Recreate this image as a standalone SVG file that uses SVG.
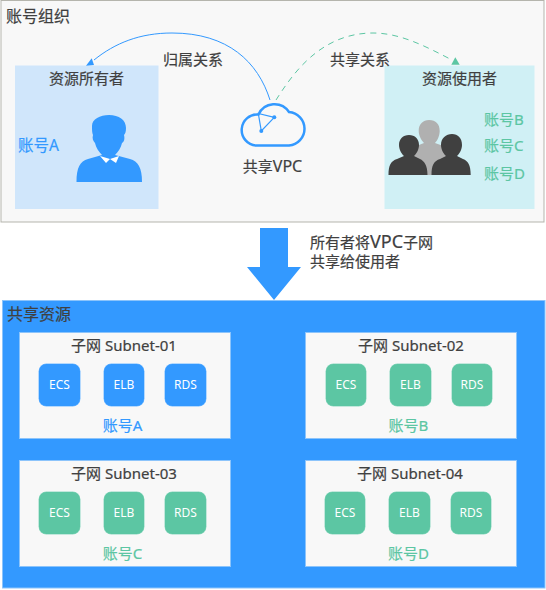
<svg xmlns="http://www.w3.org/2000/svg" width="546" height="590" viewBox="0 0 546 590">
<style>
text{font-family:"Noto Sans","Noto Sans CJK SC",sans-serif;font-size:15px;fill:#404040;stroke:#404040;stroke-width:.2}
.c{text-anchor:middle}
.b{fill:#3399ff}
.g{fill:#5cc6a3}
text.tb{fill:#3399ff;stroke:#3399ff}
text.tg{fill:#5cc6a3;stroke:#5cc6a3}
.svc{stroke:#fff;stroke-opacity:.3;stroke-width:1}
text.st{font-size:12px;fill:#fff;stroke:none;text-anchor:middle}
.sub{fill:#f8f8f8;stroke:#8cc4fb;stroke-width:1}
.dk{fill:#404040}
</style>
<defs>
<marker id="ab" markerUnits="userSpaceOnUse" markerWidth="14" markerHeight="12" refX="10" refY="3" orient="0"><path d="M7.700 1.300L2 8.700L10 8Z" fill="#3399ff"/></marker>
<marker id="ag" markerUnits="userSpaceOnUse" markerWidth="12" markerHeight="12" refX="2" refY="3" orient="0"><path d="M5.300 0.300L1.300 7.700L9.700 7.700Z" fill="#5cc6a3"/></marker>
</defs>
<g id="org"><rect x="1" y="0.500" width="543" height="221.500" fill="#f8f8f8" stroke="#b5b5ad"/><text x="6" y="22" style="font-size:16px">账号组织</text></g>
<g id="owner"><rect x="15" y="65.500" width="143.500" height="143.500" fill="#d0e6fb"/><text class="c" x="86.500" y="84">资源所有者</text><text class="tb" x="18" y="151" style="font-size:15.500px">账号A</text>
<path class="b" d="M92 126C92 119 100 115 109 115C119 115 126 120 126 128C126 132 125 134 124 135C125 139 124 142 122 143C121 148 118 152 115 155L130 159C138 161 142 168 142 182L76.500 182C76.500 168 80 161 88 159L102 155C99 152 96 148 95 143C93 141 92 138 93 135C92 133 92 130 92 126Z"/><path d="M100 156L106 163L110 159L116 163L119 156L110 159Z" fill="#fff"/></g>
<g id="user"><rect x="384.500" y="65.500" width="150" height="143.500" fill="#d0f0f5"/><text class="c" x="459.500" y="84">资源使用者</text>
<text class="tg" x="484" y="125">账号B</text><text class="tg" x="484" y="151">账号C</text><text class="tg" x="484" y="179">账号D</text>
<path fill="#b0b0b0" d="M418.700 131C418.700 124 423 120 429 120C436 120 439.700 124 439.700 131C439.700 136 437 141 435 143L446 147L447 175L413 175L414 147L424 143C422 141 418.700 136 418.700 131Z"/>
<path class="dk" d="M399 145C399 139 403 135 409 135C415 135 419 139 419 145C419 150 416 154 414 156L420 159C424 161 427.500 165 427.500 175L388.500 175C388.500 165 391 161 397 159L404 156C402 154 399 150 399 145Z"/>
<path class="dk" d="M441 145C441 138 446 134 452 134C458 134 462 138 462 145C462 150 459 154 457 156L463 159C468 161 470.700 165 470.700 175L431.500 175C431.500 165 434 161 440 159L446 156C444 154 441 150 441 145Z"/></g>
<g id="connectors" fill="none">
<path d="M270 100C258 62 228 33 172 33C140 33 115 43 94 60" stroke="#3399ff" marker-end="url(#ab)"/>
<path d="M276 100C292 75 320 33 373 33C400 33 425 46 452 60" stroke="#5cc6a3" stroke-dasharray="6 5" marker-end="url(#ag)"/>
<path d="M260 249.500L260 228L288 228L288 267L301 267L274 300L247 267L260 267Z" fill="#3399ff"/>
</g>
<g id="vpc"><path d="M289 145.500L256 145.500A15.500 15.500 0 1 1 258.500 114.500A17.500 17.500 0 0 1 289 112A16.800 16.800 0 0 1 289 145.500Z" fill="none" stroke="#3399ff" stroke-width="2.500"/>
<path d="M258.300 113.500L261.300 131L274.300 117.300Z" fill="none" stroke="#3399ff" stroke-width="1.200"/><circle cx="261.300" cy="131" r="2" class="b"/><circle cx="274.300" cy="117.300" r="2" class="b"/><text class="c" x="272.500" y="172">共享<tspan style="font-size:16px">VPC</tspan></text></g>
<g id="labels"><text x="163" y="65">归属关系</text><text x="330" y="65">共享关系</text><text x="310" y="248">所有者将<tspan style="font-size:18px">VPC</tspan>子网</text><text x="310" y="267">共享给使用者</text></g>
<g id="shared"><rect x="2.500" y="300.500" width="542.500" height="287.500" fill="#3399ff" stroke="#8cc4fb"/><text x="7" y="320" style="font-size:16px">共享资源</text></g>
<g id="subnet1"><rect class="sub" x="19.500" y="332.500" width="211" height="106"/><text class="c" x="124" y="351">子网 Subnet-01</text>
<rect class="b svc" x="38.500" y="363.500" width="42" height="43" rx="8"/><text class="st" x="59.500" y="389">ECS</text>
<rect class="b svc" x="103.500" y="363.500" width="41" height="43" rx="8"/><text class="st" x="124" y="389">ELB</text>
<rect class="b svc" x="164.500" y="363.500" width="42" height="43" rx="8"/><text class="st" x="185.500" y="389">RDS</text>
<text class="c tb" x="122.500" y="431">账号A</text></g>
<g id="subnet2"><rect class="sub" x="305.500" y="332.500" width="211" height="106"/><text class="c" x="411" y="351">子网 Subnet-02</text>
<rect class="g svc" x="325.500" y="363.500" width="41" height="43" rx="8"/><text class="st" x="346" y="389">ECS</text>
<rect class="g svc" x="389.500" y="363.500" width="42" height="43" rx="8"/><text class="st" x="410.500" y="389">ELB</text>
<rect class="g svc" x="451.500" y="363.500" width="41" height="43" rx="8"/><text class="st" x="472" y="389">RDS</text>
<text class="c tg" x="408.500" y="431">账号B</text></g>
<g id="subnet3"><rect class="sub" x="19.500" y="460.500" width="211" height="106"/><text class="c" x="124" y="479">子网 Subnet-03</text>
<rect class="g svc" x="38.500" y="491.500" width="42" height="43" rx="8"/><text class="st" x="59.500" y="517">ECS</text>
<rect class="g svc" x="103.500" y="491.500" width="41" height="43" rx="8"/><text class="st" x="124" y="517">ELB</text>
<rect class="g svc" x="164.500" y="491.500" width="42" height="43" rx="8"/><text class="st" x="185.500" y="517">RDS</text>
<text class="c tg" x="122.500" y="559">账号C</text></g>
<g id="subnet4"><rect class="sub" x="305.500" y="460.500" width="211" height="106"/><text class="c" x="410" y="479">子网 Subnet-04</text>
<rect class="g svc" x="324.500" y="491.500" width="41" height="43" rx="8"/><text class="st" x="345" y="517">ECS</text>
<rect class="g svc" x="388.500" y="491.500" width="42" height="43" rx="8"/><text class="st" x="409.500" y="517">ELB</text>
<rect class="g svc" x="450.500" y="491.500" width="41" height="43" rx="8"/><text class="st" x="471" y="517">RDS</text>
<text class="c tg" x="408.500" y="559">账号D</text></g>
</svg>
